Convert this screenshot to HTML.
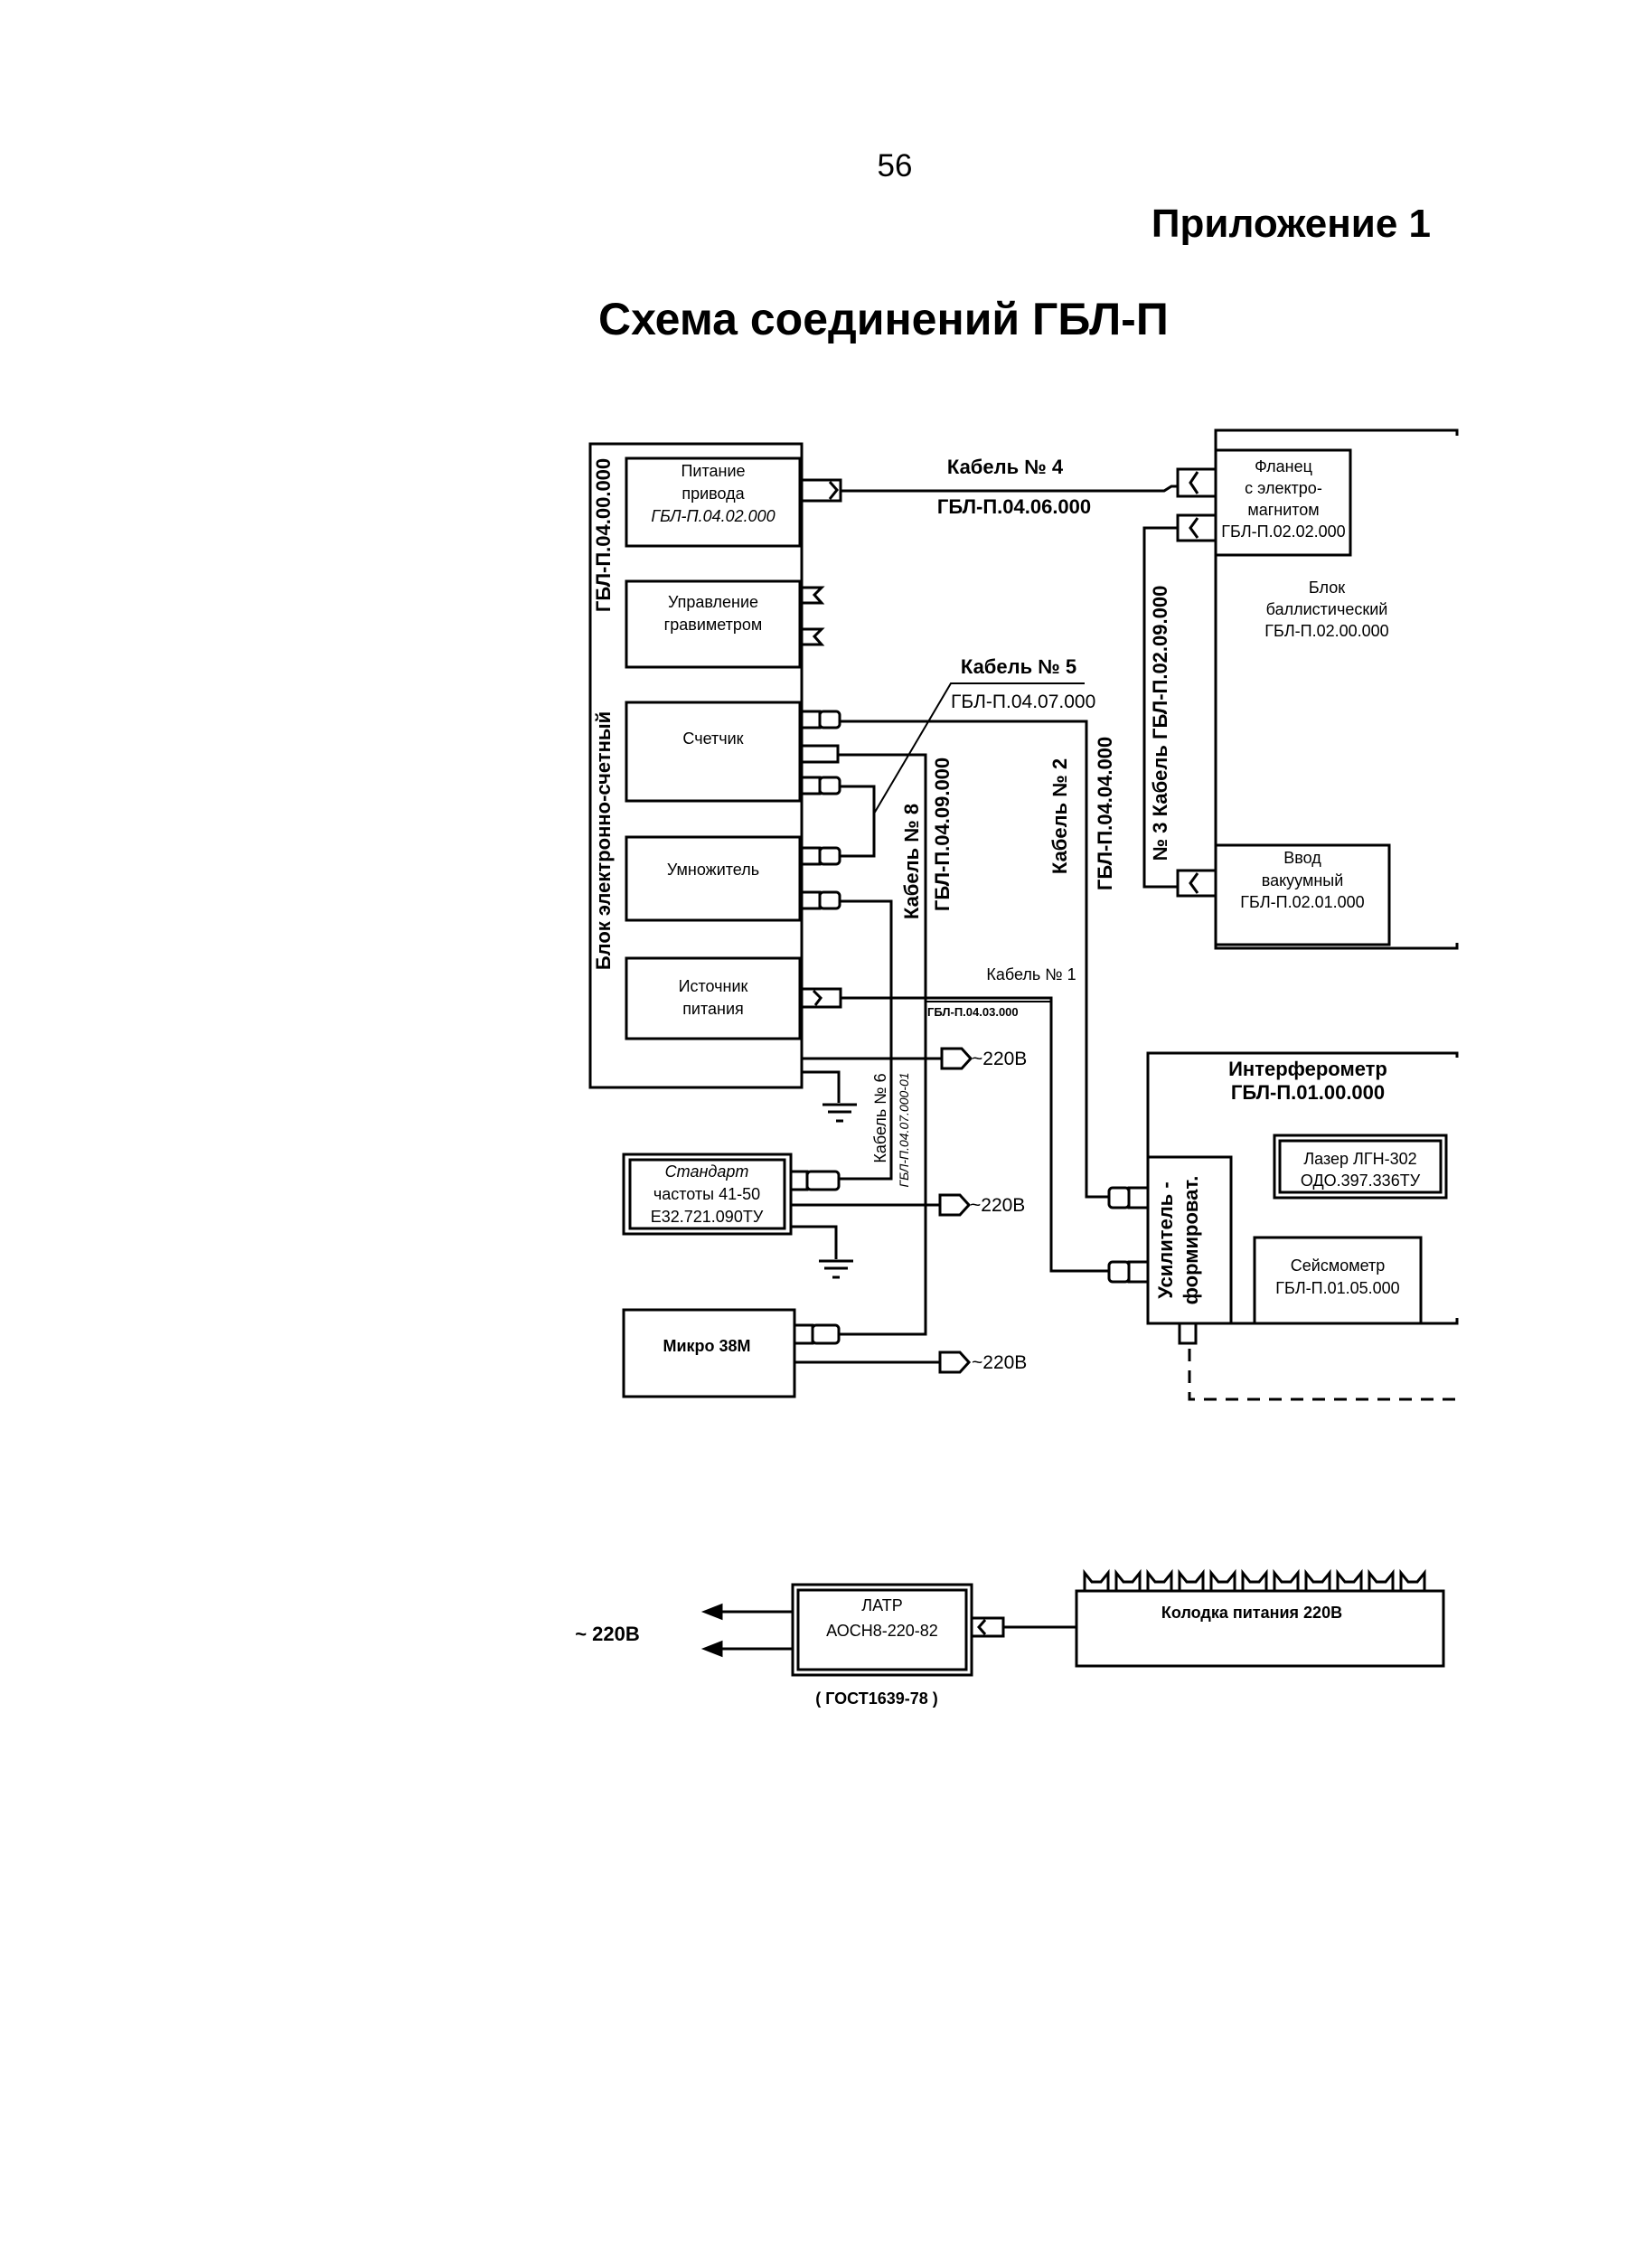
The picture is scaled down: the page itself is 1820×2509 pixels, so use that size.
<!DOCTYPE html>
<html><head><meta charset="utf-8"><style>
html,body{margin:0;padding:0;background:#fff}
svg{display:block}
text{font-family:"Liberation Sans",sans-serif;fill:#000}
</style></head><body>
<svg width="1820" height="2509" viewBox="0 0 1820 2509" xmlns="http://www.w3.org/2000/svg">
<g fill="none" stroke="#000" stroke-width="3">
<!-- big box -->
<rect x="653" y="491" width="234" height="712"/>
<rect x="693" y="507" width="192" height="97"/>
<rect x="693" y="643" width="192" height="95"/>
<rect x="693" y="777" width="192" height="109"/>
<rect x="693" y="926" width="192" height="92"/>
<rect x="693" y="1060" width="192" height="89"/>
<!-- connectors big box -->
<rect x="887" y="531" width="43" height="23"/><path d="M918 533 l8 9 l-8 10"/>
<path d="M887 650 h22 l-8 8 l8 9 h-22"/><path d="M887 696 h22 l-8 8 l8 9 h-22"/>
<rect x="887" y="787" width="20" height="18"/><rect x="907" y="787" width="22" height="18" rx="4"/>
<rect x="887" y="825" width="40" height="18"/>
<rect x="887" y="860" width="20" height="18"/><rect x="907" y="860" width="22" height="18" rx="4"/>
<rect x="887" y="938" width="20" height="18"/><rect x="907" y="938" width="22" height="18" rx="4"/>
<rect x="887" y="987" width="20" height="18"/><rect x="907" y="987" width="22" height="18" rx="4"/>
<rect x="887" y="1094" width="43" height="20"/><path d="M900 1096 l8 8 l-6 8"/>
<!-- cable 4 -->
<path d="M930 543 H1288 L1296 538 H1303"/>
<!-- ballistic -->
<path d="M1612 482 V476 H1345 V1049 H1612 V1043"/>
<rect x="1345" y="498" width="149" height="116"/>
<rect x="1345" y="935" width="192" height="110"/>
<rect x="1303" y="519" width="42" height="30"/><path d="M1325 522 l-8 12 l8 12"/>
<rect x="1303" y="570" width="42" height="28"/><path d="M1325 573 l-8 11 l8 11"/>
<rect x="1303" y="963" width="42" height="28"/><path d="M1325 966 l-8 11 l8 11"/>
<path d="M1303 584 H1266 V981 H1303"/>
<!-- cable lines -->
<path d="M929 798 H1202 V1324 H1227"/>
<path d="M927 835 H1024 V1476 H928"/>
<path d="M929 870 H967 V947 H929"/>
<path d="M929 997 H986 V1304 H928"/>
<path d="M930 1104 H1163 V1406 H1227"/>
<path d="M967 900 L1052 756 H1200" stroke-width="2"/>
<path d="M1024 1108 H1163" stroke-width="2"/>
<!-- 220 lines -->
<path d="M887 1171 H1042"/><path d="M1042 1160 h22 l10 11 l-10 11 h-22 z"/>
<path d="M887 1186 H928 V1220"/><path d="M910 1222 h38 M916 1230 h26 M925 1240 h8"/>
<rect x="690" y="1277" width="185" height="88"/><rect x="697" y="1283" width="171" height="76"/>
<rect x="875" y="1296" width="18" height="20"/><rect x="893" y="1296" width="35" height="20" rx="4"/>
<path d="M875 1333 H1040"/><path d="M1040 1322 h22 l10 11 l-10 11 h-22 z"/>
<path d="M875 1357 H925 V1393"/><path d="M906 1395 h38 M912 1403 h26 M921 1413 h8"/>
<rect x="690" y="1449" width="189" height="96"/>
<rect x="879" y="1466" width="20" height="20"/><rect x="899" y="1466" width="29" height="20" rx="4"/>
<path d="M879 1507 H1040"/><path d="M1040 1496 h22 l10 11 l-10 11 h-22 z"/>
<!-- interferometer -->
<path d="M1612 1170 V1165 H1270 V1464 H1612 V1458"/>
<rect x="1270" y="1280" width="92" height="184"/>
<rect x="1227" y="1314" width="22" height="22" rx="4"/><rect x="1249" y="1314" width="21" height="22"/>
<rect x="1227" y="1396" width="22" height="22" rx="4"/><rect x="1249" y="1396" width="21" height="22"/>
<rect x="1410" y="1256" width="190" height="69"/><rect x="1416" y="1262" width="178" height="57"/>
<rect x="1388" y="1369" width="184" height="95"/>
<rect x="1305" y="1464" width="18" height="22"/>
<path d="M1316 1492 V1548 H1612" stroke-dasharray="14 10"/>
<!-- bottom -->
<rect x="877" y="1753" width="198" height="100"/><rect x="883" y="1759" width="186" height="88"/>
<path d="M877 1783 H785 M877 1824 H785"/>
<path d="M780 1783 l18 -7 v14 z M780 1824 l18 -7 v14 z" fill="#000"/>
<rect x="1075" y="1790" width="35" height="20"/><path d="M1090 1792 l-7 8 l7 8"/>
<path d="M1110 1800 H1191"/>
<rect x="1191" y="1760" width="406" height="83"/>
<path d="M1200 1760 v-20 l8 10 h10 l8 -10 v20 M1235 1760 v-20 l8 10 h10 l8 -10 v20 M1270 1760 v-20 l8 10 h10 l8 -10 v20 M1305 1760 v-20 l8 10 h10 l8 -10 v20 M1340 1760 v-20 l8 10 h10 l8 -10 v20 M1375 1760 v-20 l8 10 h10 l8 -10 v20 M1410 1760 v-20 l8 10 h10 l8 -10 v20 M1445 1760 v-20 l8 10 h10 l8 -10 v20 M1480 1760 v-20 l8 10 h10 l8 -10 v20 M1515 1760 v-20 l8 10 h10 l8 -10 v20 M1550 1760 v-20 l8 10 h10 l8 -10 v20"/>
</g>
<!-- header -->
<text x="990" y="195" font-size="35" text-anchor="middle">56</text>
<text x="1583" y="262" font-size="44" font-weight="bold" text-anchor="end">Приложение 1</text>
<text x="662" y="370" font-size="50" font-weight="bold">Схема соединений ГБЛ-П</text>
<g font-size="18" text-anchor="middle">
<text x="789" y="527">Питание</text><text x="789" y="552">привода</text><text x="789" y="577" font-style="italic">ГБЛ-П.04.02.000</text>
<text x="789" y="672">Управление</text><text x="789" y="697">гравиметром</text>
<text x="789" y="823">Счетчик</text>
<text x="789" y="968">Умножитель</text>
<text x="789" y="1097">Источник</text><text x="789" y="1122">питания</text>
<text x="1420" y="522">Фланец</text><text x="1420" y="546">с электро-</text><text x="1420" y="570">магнитом</text><text x="1420" y="594">ГБЛ-П.02.02.000</text>
<text x="1468" y="656">Блок</text><text x="1468" y="680">баллистический</text><text x="1468" y="704">ГБЛ-П.02.00.000</text>
<text x="1441" y="955">Ввод</text><text x="1441" y="980">вакуумный</text><text x="1441" y="1004">ГБЛ-П.02.01.000</text>
<text x="782" y="1302" font-style="italic">Стандарт</text><text x="782" y="1327">частоты 41-50</text><text x="782" y="1352">Е32.721.090ТУ</text>
<text x="782" y="1495" font-weight="bold">Микро 38М</text>
<text x="1505" y="1288">Лазер ЛГН-302</text><text x="1505" y="1312">ОДО.397.336ТУ</text>
<text x="1480" y="1406">Сейсмометр</text><text x="1480" y="1431">ГБЛ-П.01.05.000</text>
<text x="976" y="1782">ЛАТР</text><text x="976" y="1810">АОСН8-220-82</text>
<text x="970" y="1885" font-weight="bold">( ГОСТ1639-78 )</text>
<text x="1385" y="1790" font-weight="bold">Колодка питания  220В</text>
<text x="1141" y="1084">Кабель № 1</text>
</g>
<text x="1026" y="1124" font-size="13" font-weight="bold">ГБЛ-П.04.03.000</text>
<g font-size="21">
<text x="1075" y="1178">~220В</text><text x="1073" y="1340">~220В</text><text x="1075" y="1514">~220В</text>
<text x="1052" y="783">ГБЛ-П.04.07.000</text>
</g>
<g font-size="22" font-weight="bold" text-anchor="middle">
<text x="1112" y="524">Кабель № 4</text><text x="1122" y="568">ГБЛ-П.04.06.000</text>
<text x="1127" y="745">Кабель № 5</text>
<text x="1447" y="1190">Интерферометр</text><text x="1447" y="1216">ГБЛ-П.01.00.000</text>
<text x="672" y="1815">~ 220В</text>
</g>
<g font-size="22" font-weight="bold" text-anchor="middle">
<text transform="translate(675,592) rotate(-90)">ГБЛ-П.04.00.000</text>
<text transform="translate(675,930) rotate(-90)">Блок электронно-счетный</text>
<text transform="translate(1016,953) rotate(-90)">Кабель № 8</text>
<text transform="translate(1050,923) rotate(-90)">ГБЛ-П.04.09.000</text>
<text transform="translate(1180,903) rotate(-90)">Кабель № 2</text>
<text transform="translate(1230,900) rotate(-90)">ГБЛ-П.04.04.000</text>
<text transform="translate(1291,800) rotate(-90)">№ 3 Кабель ГБЛ-П.02.09.000</text>
<text transform="translate(1297,1372) rotate(-90)">Усилитель -</text>
<text transform="translate(1325,1372) rotate(-90)">формироват.</text>
</g>
<text transform="translate(980,1237) rotate(-90)" font-size="18" text-anchor="middle">Кабель № 6</text>
<text transform="translate(1005,1250) rotate(-90)" font-size="14" font-style="italic" text-anchor="middle">ГБЛ-П.04.07.000-01</text>
</svg>
</body></html>
